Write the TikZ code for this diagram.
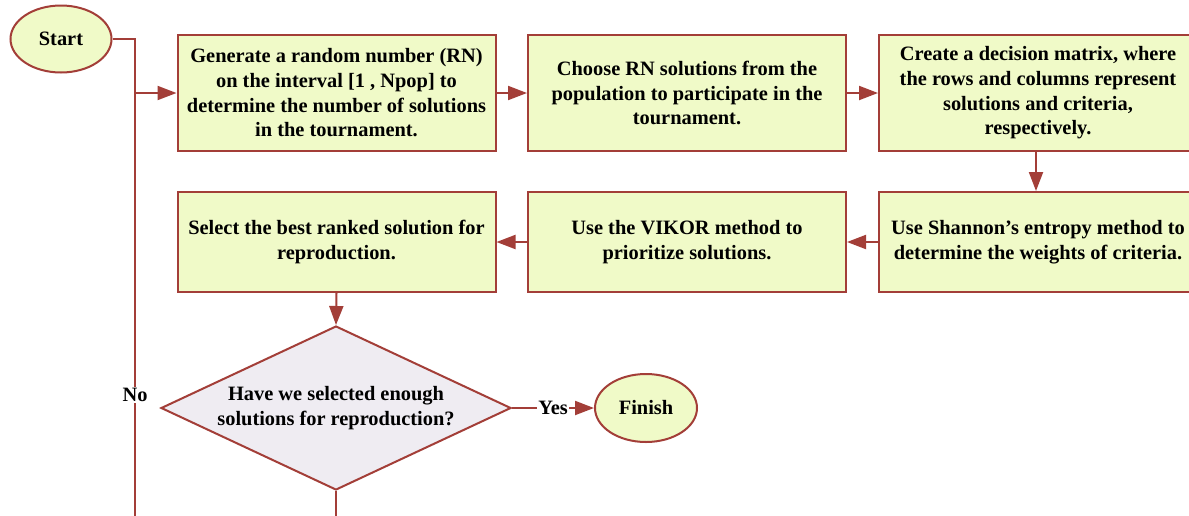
\documentclass[tikz,border=0pt]{standalone}
\usepackage{fontspec}
\setmainfont{Liberation Serif}
\usetikzlibrary{arrows.meta,shapes.geometric}
\definecolor{bord}{HTML}{A33E38}
\definecolor{boxfill}{HTML}{F0FAC8}
\definecolor{diafill}{HTML}{EFECF2}
\tikzset{
  every node/.style={font=\fontsize{20.4}{24.7}\selectfont\bfseries},
  procbox/.style={draw=bord, fill=boxfill, line width=2pt, rectangle, minimum width=318pt, align=center, inner sep=2pt},
  terminal/.style={draw=bord, fill=boxfill, line width=2pt, ellipse, inner sep=0pt},
  decision/.style={draw=bord, fill=diafill, line width=2pt, diamond, aspect=2.13, minimum width=350pt, minimum height=164pt, inner sep=0pt, align=center},
  conn/.style={draw=bord, line width=2pt},
  arr/.style={conn, -{Triangle[length=19pt,width=14pt]}},
  lbl/.style={fill=white, inner sep=1pt}
}
\begin{document}
\begin{tikzpicture}[x=1pt,y=-1pt]
\clip (0,0) rectangle (1189,515);
\fill[white] (0,0) rectangle (1189,515);
\node[terminal, minimum width=101pt, minimum height=67pt] (start) at (61,39) {Start};
\node[procbox, minimum height=116pt] (b1) at (336.5,93) {Generate a random number (RN)\\on the interval [1 , Npop] to\\determine the number of solutions\\in the tournament.};
\node[procbox, minimum height=116pt] (b2) at (687,93) {Choose RN solutions from the\\population to participate in the\\tournament.};
\node[procbox, minimum height=116pt] (b3) at (1038,93) {Create a decision matrix, where\\the rows and columns represent\\solutions and criteria,\\respectively.};
\node[procbox, minimum height=100pt] (b4) at (1038,242) {Use Shannon’s entropy method to\\determine the weights of criteria.};
\node[procbox, minimum height=100pt] (b5) at (687,242) {Use the VIKOR method to\\prioritize solutions.};
\node[procbox, minimum height=100pt] (b6) at (336.5,242) {Select the best ranked solution for\\reproduction.};
\node[decision] (dia) at (336,408) {Have we selected enough\\solutions for reproduction?};
\node[terminal, minimum width=102pt, minimum height=68pt] (fin) at (646,408) {Finish};
\coordinate (jn) at (135,93);
\coordinate (loopR) at (336,560);
\coordinate (loopL) at (135,560);
\draw[conn] (start.east) -| (jn);
\draw[arr] (jn) -- (b1.west);
\draw[arr] (b1.east) -- (b2.west);
\draw[arr] (b2.east) -- (b3.west);
\draw[arr] (b3.south -| 1036,0) -- (b4.north -| 1036,0);
\draw[arr] (b4.west) -- (b5.east);
\draw[arr] (b5.west) -- (b6.east);
\draw[arr] (b6.south) -- (dia.north);
\draw[arr] (dia.east) -- node[lbl]{Yes} (fin.west);
\draw[conn] (dia.south) -- (loopR) -- (loopL) -- node[lbl, pos=0.353]{No} (jn);
\end{tikzpicture}
\end{document}
